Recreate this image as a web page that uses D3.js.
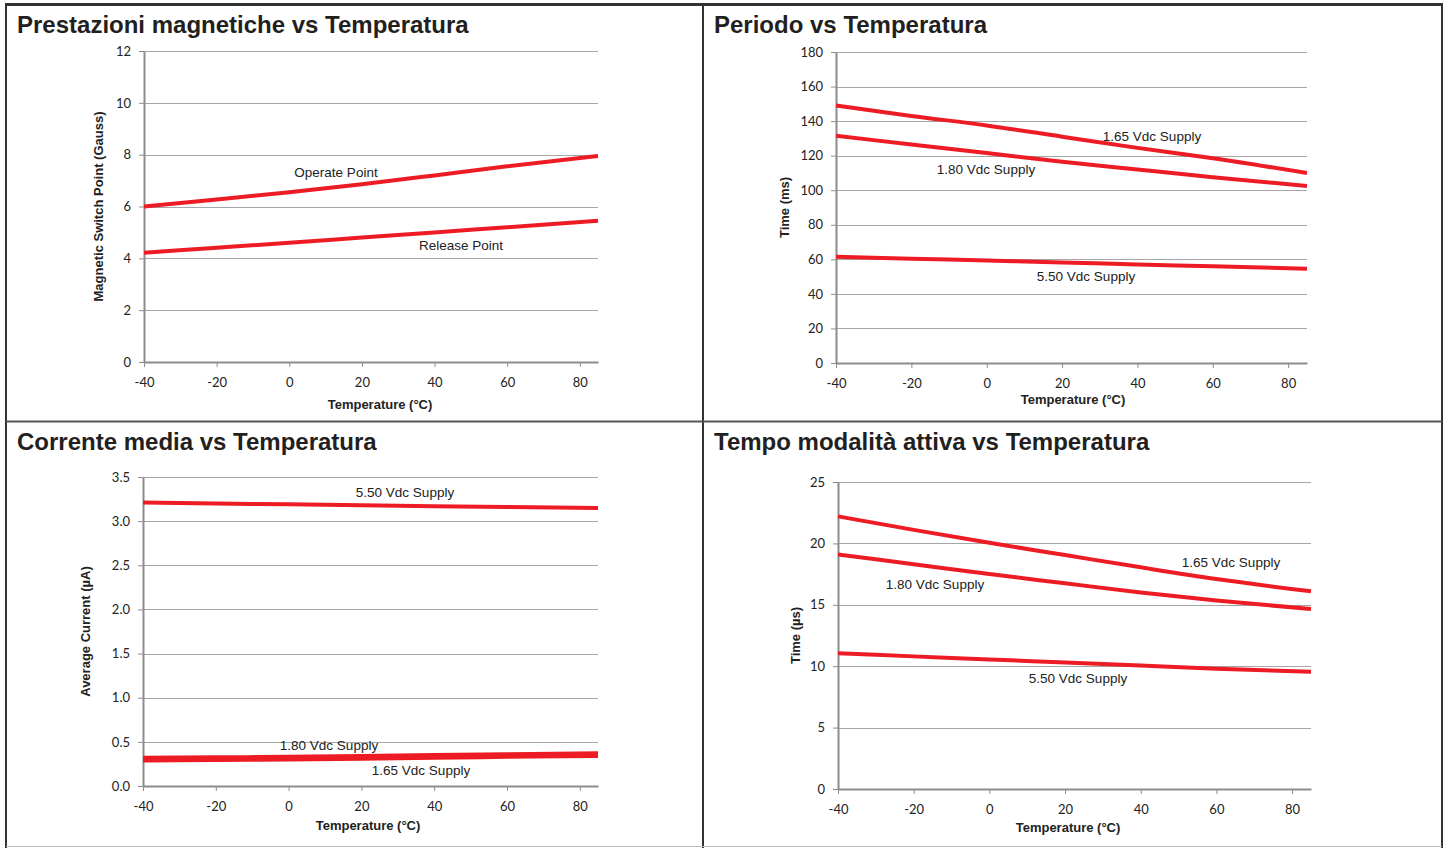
<!DOCTYPE html>
<html>
<head>
<meta charset="utf-8">
<script src="https://cdn.jsdelivr.net/npm/d3@7"></script>
<style>
  html, body { margin: 0; padding: 0; background: #fff; }
  svg { display: block; }
  .title { font-family: "Liberation Sans", Arial, sans-serif; font-weight: bold; font-size: 24px; fill: #231f20; }
  .tick text { font-family: Lato, "Open Sans", sans-serif; font-size: 13px; fill: #222; }
  .axis-label { font-family: "Liberation Sans", Arial, sans-serif; font-weight: bold; font-size: 13px; fill: #222; }
  .series-label { font-family: "Liberation Sans", Arial, sans-serif; font-size: 13.5px; fill: #222; }
</style>
</head>
<body>
<svg id="chart" width="1448" height="848"></svg>
<script>
// Temperatures (°C) shared by all panels
const temps = [-40, -20, 0, 20, 40, 60, 85];

// Prestazioni magnetiche (Gauss)
const operatePoint = [6.0, 6.27, 6.55, 6.86, 7.2, 7.55, 7.95];
const releasePoint = [4.22, 4.41, 4.6, 4.8, 5.0, 5.2, 5.45];

// Periodo (ms)
const period165 = [149, 143, 137.5, 131, 124.5, 118.5, 110];
const period180 = [131.5, 126.5, 121.5, 116.5, 112, 107.5, 102.5];
const period550 = [61.5, 60.4, 59.3, 58.2, 57, 56, 54.5];

// Corrente media (µA)
const current550 = [3.21, 3.2, 3.19, 3.18, 3.17, 3.16, 3.15];
const current180 = [0.32, 0.325, 0.33, 0.34, 0.35, 0.36, 0.37];
const current165 = [0.29, 0.295, 0.3, 0.31, 0.32, 0.33, 0.34];

// Tempo modalità attiva (µs)
const active165 = [22.2, 21.1, 20.05, 19.05, 18.05, 17.1, 16.1];
const active180 = [19.1, 18.3, 17.5, 16.75, 16.0, 15.35, 14.65];
const active550 = [11.05, 10.8, 10.55, 10.3, 10.05, 9.8, 9.55];

const xTicks = [-40, -20, 0, 20, 40, 60, 80];

const svg = d3.select("#chart");
const RED = "#ed1c24";
const plain = d => String(d);

// frame
const frame = svg.append("g");
frame.append("line").attr("x1", 5).attr("x2", 1443).attr("y1", 4.5).attr("y2", 4.5)
  .attr("stroke", "#333").attr("stroke-width", 3);
frame.append("line").attr("x1", 6).attr("x2", 6).attr("y1", 4).attr("y2", 848)
  .attr("stroke", "#333").attr("stroke-width", 2);
frame.append("line").attr("x1", 1442).attr("x2", 1442).attr("y1", 4).attr("y2", 848)
  .attr("stroke", "#333").attr("stroke-width", 2);
frame.append("line").attr("x1", 703).attr("x2", 703).attr("y1", 4).attr("y2", 848)
  .attr("stroke", "#333").attr("stroke-width", 2);
frame.append("line").attr("x1", 6).attr("x2", 1442).attr("y1", 421.5).attr("y2", 421.5)
  .attr("stroke", "#555").attr("stroke-width", 2);
frame.append("line").attr("x1", 6).attr("x2", 1442).attr("y1", 846.5).attr("y2", 846.5)
  .attr("stroke", "#bbb").attr("stroke-width", 1);

const panels = [
  {
    title: "Prestazioni magnetiche vs Temperatura", tx: 17, ty: 33,
    left: 144, right: 598, top: 51, bottom: 362,
    yDomain: [0, 12], yTicks: [0, 2, 4, 6, 8, 10, 12], yFmt: plain,
    yLabel: "Magnetic Switch Point (Gauss)", yLabelX: 103,
    xLabelX: 380, xLabelY: 409,
    series: [operatePoint, releasePoint],
    labels: [
      { text: "Operate Point", x: 336, y: 177 },
      { text: "Release Point", x: 461, y: 250 }
    ]
  },
  {
    title: "Periodo vs Temperatura", tx: 714, ty: 33,
    left: 836, right: 1307, top: 52, bottom: 363,
    yDomain: [0, 180], yTicks: [0, 20, 40, 60, 80, 100, 120, 140, 160, 180], yFmt: plain,
    yLabel: "Time (ms)", yLabelX: 789,
    xLabelX: 1073, xLabelY: 404,
    series: [period165, period180, period550],
    labels: [
      { text: "1.65 Vdc Supply", x: 1152, y: 141 },
      { text: "1.80 Vdc Supply", x: 986, y: 174 },
      { text: "5.50 Vdc Supply", x: 1086, y: 281 }
    ]
  },
  {
    title: "Corrente media vs Temperatura", tx: 17, ty: 450,
    left: 143, right: 598, top: 477, bottom: 786,
    yDomain: [0, 3.5], yTicks: [0, 0.5, 1, 1.5, 2, 2.5, 3, 3.5], yFmt: d3.format(".1f"),
    yLabel: "Average Current  (µA)", yLabelX: 90,
    xLabelX: 368, xLabelY: 830,
    series: [current550, current180, current165],
    labels: [
      { text: "5.50 Vdc Supply", x: 405, y: 497 },
      { text: "1.80 Vdc Supply", x: 329, y: 750 },
      { text: "1.65 Vdc Supply", x: 421, y: 775 }
    ]
  },
  {
    title: "Tempo modalità attiva vs Temperatura", tx: 714, ty: 450,
    left: 838, right: 1311, top: 482, bottom: 789,
    yDomain: [0, 25], yTicks: [0, 5, 10, 15, 20, 25], yFmt: plain,
    yLabel: "Time (µs)", yLabelX: 800,
    xLabelX: 1068, xLabelY: 832,
    series: [active165, active180, active550],
    labels: [
      { text: "1.65 Vdc Supply", x: 1231, y: 567 },
      { text: "1.80 Vdc Supply", x: 935, y: 589 },
      { text: "5.50 Vdc Supply", x: 1078, y: 683 }
    ]
  }
];

panels.forEach(p => {
  const g = svg.append("g");

  g.append("text").attr("class", "title").attr("x", p.tx).attr("y", p.ty).text(p.title);

  const x = d3.scaleLinear().domain([-40, 85]).range([p.left, p.right]);
  const y = d3.scaleLinear().domain(p.yDomain).range([p.bottom, p.top]);

  // gridlines
  g.append("g").selectAll("line")
    .data(p.yTicks.filter(d => d > p.yDomain[0]))
    .enter().append("line")
    .attr("x1", p.left).attr("x2", p.right)
    .attr("y1", d => Math.round(y(d)) + 0.5).attr("y2", d => Math.round(y(d)) + 0.5)
    .attr("stroke", "#a6a6a6").attr("stroke-width", 1);

  // y axis
  const yAxis = g.append("g")
    .attr("transform", `translate(${p.left},0)`)
    .call(d3.axisLeft(y).tickValues(p.yTicks).tickFormat(p.yFmt).tickSize(5).tickPadding(8).tickSizeOuter(0));
  yAxis.select(".domain").attr("stroke", "#8c8c8c").attr("stroke-width", 2);
  yAxis.selectAll(".tick line").attr("stroke", "#8c8c8c");

  // x axis
  const xAxis = g.append("g")
    .attr("transform", `translate(0,${p.bottom})`)
    .call(d3.axisBottom(x).tickValues(xTicks).tickFormat(plain).tickSize(5).tickPadding(11).tickSizeOuter(0));
  xAxis.select(".domain").attr("stroke", "#8c8c8c").attr("stroke-width", 2);
  xAxis.selectAll(".tick line").attr("stroke", "#8c8c8c");

  // series lines
  const line = d3.line()
    .x((d, i) => x(temps[i]))
    .y(d => y(d))
    .curve(d3.curveMonotoneX);
  p.series.forEach(s => {
    g.append("path").attr("d", line(s))
      .attr("fill", "none").attr("stroke", RED).attr("stroke-width", 4);
  });

  // series labels
  p.labels.forEach(l => {
    g.append("text").attr("class", "series-label")
      .attr("x", l.x).attr("y", l.y).attr("text-anchor", "middle").text(l.text);
  });

  // axis titles
  g.append("text").attr("class", "axis-label")
    .attr("x", p.xLabelX).attr("y", p.xLabelY)
    .attr("text-anchor", "middle").text("Temperature (°C)");
  g.append("text").attr("class", "axis-label")
    .attr("transform", `translate(${p.yLabelX},${(p.top + p.bottom) / 2}) rotate(-90)`)
    .attr("text-anchor", "middle").text(p.yLabel);
});
</script>
</body>
</html>
